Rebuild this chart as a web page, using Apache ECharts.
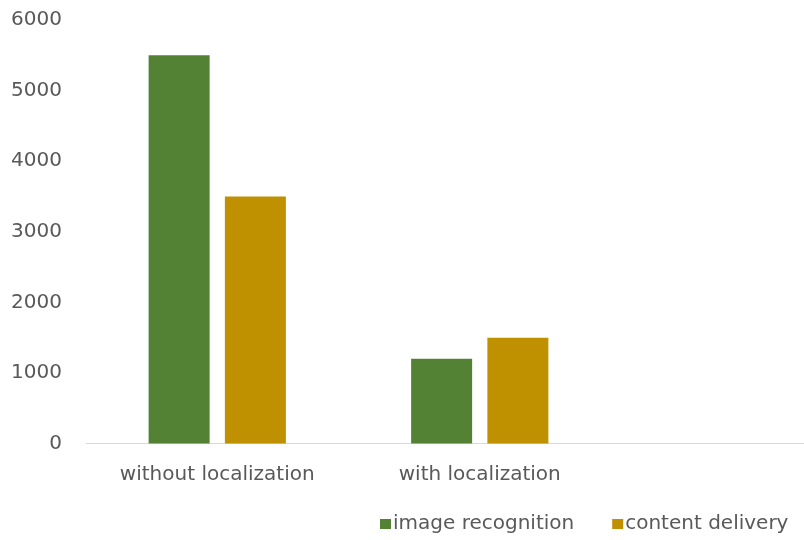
<!DOCTYPE html>
<html>
<head>
<meta charset="utf-8">
<script src="https://cdn.jsdelivr.net/npm/echarts@6/dist/echarts.min.js"></script>
<style>html,body{margin:0;padding:0;background:#fff;overflow:hidden;}#c{width:880px;height:540px;}</style>
</head>
<body>
<div id="c"></div>
<script>
const categories = ['without localization', 'with localization', ''];
const imageRecognition = [5500, 1200, null];
const contentDelivery = [3500, 1500, null];
const seriesNames = ['image recognition', 'content delivery'];
const yTicks = {min: 0, max: 6000, step: 1000};

const chart = echarts.init(document.getElementById('c'), null, {renderer: 'canvas'});
const font = 'DejaVu Sans';
chart.setOption({
  animation: false,
  backgroundColor: '#ffffff',
  grid: {left: 86, top: 20, width: 787.5, height: 423.5, containLabel: false},
  legend: {
    data: seriesNames,
    left: 380, top: 514, padding: 0,
    itemWidth: 11, itemHeight: 10, itemGap: 38,
    icon: 'rect',
    textStyle: {fontFamily: font, fontSize: 20, color: '#595959', padding: [0,0,0,-3]}
  },
  xAxis: {
    type: 'category',
    data: categories,
    axisLine: {lineStyle: {color: '#d9d9d9', width: 1}},
    axisTick: {show: false},
    axisLabel: {fontFamily: font, fontSize: 20, color: '#595959', margin: 21, interval: 0}
  },
  yAxis: {
    type: 'value',
    min: yTicks.min, max: yTicks.max, interval: yTicks.step,
    splitLine: {show: false},
    axisLine: {show: false},
    axisTick: {show: false},
    axisLabel: {fontFamily: font, fontSize: 20, color: '#595959', margin: 24, formatter: v => String(v)}
  },
  series: [
    {name: seriesNames[0], type: 'bar', data: imageRecognition, barWidth: 61, barGap: '25%', itemStyle: {color: '#548235'}},
    {name: seriesNames[1], type: 'bar', data: contentDelivery, barWidth: 61, barGap: '25%', itemStyle: {color: '#bf9000'}}
  ]
});
</script>
</body>
</html>
